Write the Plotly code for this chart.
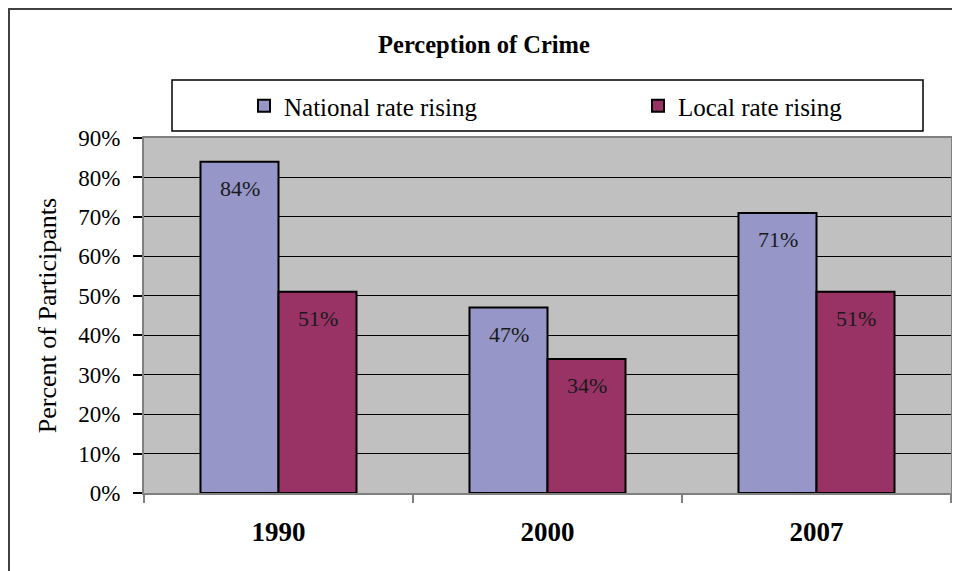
import plotly.graph_objects as go

years = ["1990", "2000", "2007"]
national = [84, 47, 71]
local = [51, 34, 51]
series_names = ["National rate rising", "Local rate rising"]
y_ticks = [0, 10, 20, 30, 40, 50, 60, 70, 80, 90]
y_tick_labels = [f"{t}%" for t in y_ticks]

FONT = "Liberation Serif"
OFF = 8  # page body margin
W, H = 960, 571
# plot area in screen pixels
SL, SR, ST, SB = 144, 951, 138, 493
PL, PR, PT, PB = SL - OFF, SR - OFF, ST - OFF, SB - OFF


def px_x(sx):
    return (sx - SL) / (SR - SL)


def px_y(sy):
    return (SB - sy) / (SB - ST)


fig = go.Figure()
fig.add_trace(go.Bar(
    x=years, y=national, name=series_names[0], legend="legend", showlegend=True,
    marker=dict(color="#9696C8", line=dict(color="#000000", width=2)),
))
fig.add_trace(go.Bar(
    x=years, y=local, name=series_names[1], legend="legend2", showlegend=True,
    marker=dict(color="#993366", line=dict(color="#000000", width=2)),
))

annotations = []
for vals, shift in ((national, -39), (local, 39)):
    for i, v in enumerate(vals):
        annotations.append(dict(
            x=i, y=v, xref="x", yref="y", text=f"{v}%", showarrow=False,
            xshift=shift, yshift=-27, yanchor="middle",
            font=dict(family=FONT, size=22, color="#1a1a1a"),
        ))

shapes = [
    dict(type="rect", xref="paper", yref="paper",
         x0=px_x(9), x1=px_x(1100), y0=px_y(700), y1=px_y(9),
         line=dict(color="#404040", width=2), fillcolor="rgba(0,0,0,0)", layer="below"),
    dict(type="rect", xref="paper", yref="paper",
         x0=px_x(172), x1=px_x(923), y0=px_y(131), y1=px_y(80),
         line=dict(color="#000000", width=1.5), fillcolor="#FFFFFF", layer="below"),
]

legend_common = dict(orientation="h", xanchor="left", yanchor="middle",
                     bgcolor="rgba(0,0,0,0)", borderwidth=0, visible=True,
                     font=dict(family=FONT, size=25, color="#000000"))

fig.update_layout(
    width=W, height=H, showlegend=True,
    margin=dict(l=PL, r=W - PR, t=PT, b=H - PB, autoexpand=False),
    paper_bgcolor="#FFFFFF",
    plot_bgcolor="#C0C0C0",
    barmode="group", bargap=0.42, bargroupgap=0,
    font=dict(family=FONT, color="#000000"),
    title=dict(text="<b>Perception of Crime</b>", x=(484 - OFF) / W, xref="container",
               xanchor="center", y=1 - (44 - OFF) / H, yref="container", yanchor="middle",
               font=dict(family=FONT, size=24.5, color="#000000")),
    legend=dict(x=px_x(244), y=px_y(106), **legend_common),
    legend2=dict(x=px_x(638), y=px_y(106), **legend_common),
    xaxis=dict(
        type="category", automargin=False, range=[-0.5, 2.5],
        showline=True, linecolor="#808080", linewidth=2, mirror=True,
        ticks="outside", tickson="boundaries", ticklen=8, tickcolor="#808080", tickwidth=2,
        tickfont=dict(family=FONT, size=27, color="#000000", weight="bold"),
        ticklabelstandoff=14, tickangle=0,
        showgrid=False,
    ),
    yaxis=dict(
        automargin=False,
        range=[0, 90], tickmode="array", tickvals=y_ticks, ticktext=y_tick_labels,
        showline=True, linecolor="#808080", linewidth=2, mirror=True,
        ticks="outside", ticklen=9, tickcolor="#000000", tickwidth=1.5,
        tickfont=dict(family=FONT, size=23, color="#000000"),
        ticklabelstandoff=8,
        showgrid=True, gridcolor="#000000", gridwidth=1.2, zeroline=False,
        title=dict(text="Percent of Participants", standoff=14,
                   font=dict(family=FONT, size=26, color="#000000")),
    ),
    annotations=annotations,
    shapes=shapes,
)

fig.write_html("out.html")
